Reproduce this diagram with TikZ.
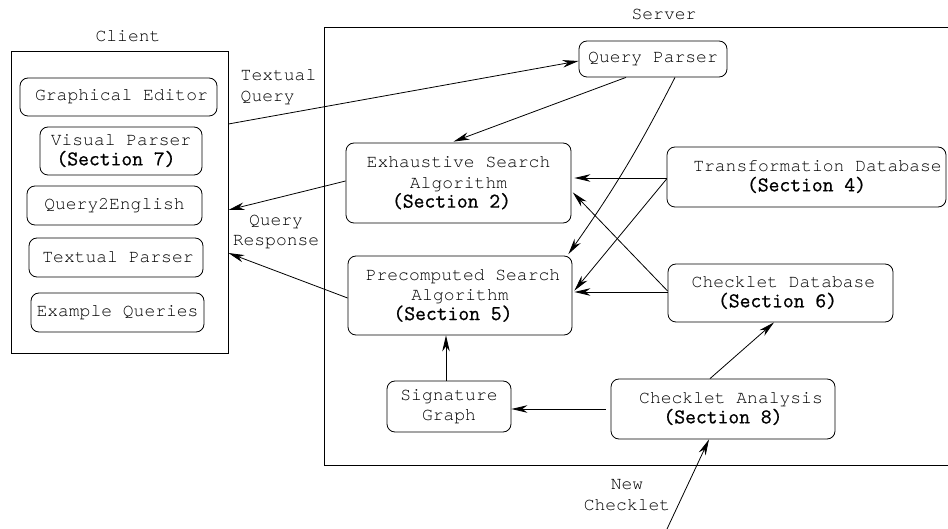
\documentclass[tikz,border=0pt]{standalone}
\usepackage{fontspec}
\setmainfont{TeX Gyre Cursor}
\newfontfamily\secfam{Latin Modern Mono}[FakeBold=0.8]
\usetikzlibrary{arrows.meta,calc}
\newcommand{\secf}[1]{{\secfam\fontsize{21}{20}\selectfont #1}}
\begin{document}
\begin{tikzpicture}[x=1pt,y=-1pt,
  every node/.style={font=\fontsize{18}{20.5}\selectfont, inner sep=0pt, align=center},
  box/.style={draw, rounded corners=8pt, line width=0.8pt},
  frame/.style={draw, line width=0.8pt},
  conn/.style={line width=0.8pt, -{Stealth[length=16pt,width=7.5pt,inset=5pt]}},
  lbl/.style={}]
\useasboundingbox (0,0) rectangle (948,529);

% Client
\node[frame, minimum width=217pt, minimum height=302pt] (client) at (119.5,202) {};
\node[lbl] (clientlbl) at (128,36) {Client};
\node[box, minimum width=197pt, minimum height=38pt] (ge) at (118.5,97) {\hspace*{6pt}Graphical Editor};
\node[box, minimum width=162pt, minimum height=48pt] (vp) at (121,151) {Visual Parser\\[-1pt]\secf{(Section 7)}\hspace*{10pt}};
\node[box, minimum width=175pt, minimum height=39pt] (qe) at (114.5,205.5) {Query2English};
\node[box, minimum width=174pt, minimum height=39pt] (tp) at (116,257.5) {\hspace*{4pt}Textual Parser};
\node[box, minimum width=173pt, minimum height=39pt] (eq) at (117.5,312.5) {Example Queries};

% Server frame (right side cut by the picture edge)
\node[lbl] (serverlbl) at (664,14) {Server};
\draw[line width=0.8pt] (960,27) -- (324,27) -- (324,465) -- (960,465);

\node[box, minimum width=148pt, minimum height=36pt] (qp) at (653,59) {Query Parser};
\node[box, minimum width=225pt, minimum height=80pt] (es) at (458.5,183) {Exhaustive Search\\Algorithm\\[-1pt]\secf{(Section 2)}\hspace*{14pt}};
\node[box, minimum width=279pt, minimum height=60pt] (tdb) at (806.5,177) {\hspace*{22pt}Transformation Database\\[-1pt]\secf{(Section 4)}};
\node[box, minimum width=224pt, minimum height=79pt] (ps) at (460,295.5) {\hspace*{6pt}Precomputed Search\\Algorithm\\[-1pt]\secf{(Section 5)}\hspace*{14pt}};
\node[box, minimum width=225pt, minimum height=58pt] (cdb) at (780.5,293) {\hspace*{6pt}Checklet Database\\[-1pt]\secf{(Section 6)}\hspace*{6pt}};
\node[box, minimum width=124pt, minimum height=51pt] (sg) at (449,406.5) {Signature\\Graph};
\node[box, minimum width=224pt, minimum height=60pt] (ca) at (723,409) {\hspace*{16pt}Checklet Analysis\\[-1pt]\secf{(Section 8)}};

% Labels
\node[lbl, align=left] (tq) at (278.5,87) {Textual\\Query};
\node[lbl] (qr) at (276,232) {Query\\Response};
\node[lbl] (nc) at (627,495) {New\\Checklet};
\coordinate (ncstart) at (667,529);

% Connectors
\draw[conn] ([yshift=78pt]client.east) -- ([yshift=-2pt]qp.west);
\draw[conn] ([xshift=-27pt]qp.south) -- ([xshift=-5pt,yshift=1pt]es.north);
\draw[conn] ([xshift=22pt]qp.south) to[bend left=4] ([xshift=-4pt,yshift=1.5pt]ps.north east);
\draw[conn] ([yshift=2pt]es.west) -- ([yshift=-8pt]client.east);
\draw[conn] ([yshift=-2.5pt]ps.west) -- ([yshift=-51pt]client.east);
\draw[conn, shorten >=3pt] ([yshift=-1pt]tdb.west) -- ([yshift=5pt]es.east);
\draw[conn, shorten >=3pt] ([yshift=-2pt]tdb.west) -- ([yshift=2.5pt]ps.east);
\draw[conn, shorten >=2pt] ([yshift=1pt]cdb.west) -- ([yshift=3.5pt]ps.east);
\draw[conn, shorten >=2pt] ([yshift=2pt]cdb.west) -- ([yshift=-8pt]es.east);
\draw[conn] ([xshift=-3pt]sg.north) -- ([xshift=-14pt]ps.south);
\draw[conn] ([xshift=-5pt]ca.west) -- ([yshift=-2.5pt]sg.east);
\draw[conn] ([xshift=-13pt]ca.north) -- ([xshift=-6.5pt]cdb.south);
\draw[conn] (ncstart) -- ([xshift=-14pt]ca.south);
\end{tikzpicture}
\end{document}
